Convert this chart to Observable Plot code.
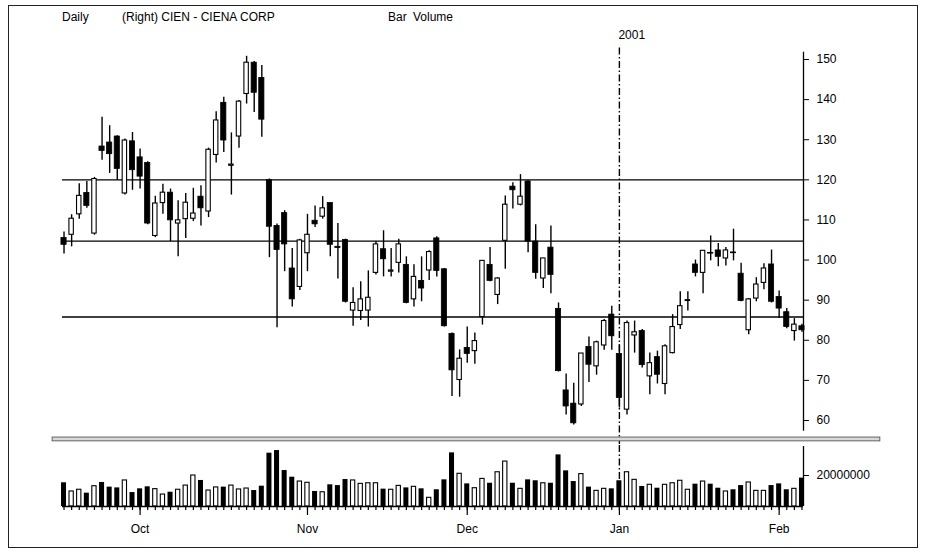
<!DOCTYPE html>
<html><head><meta charset="utf-8">
<script src="https://cdn.jsdelivr.net/npm/d3@7"></script>
<script src="https://cdn.jsdelivr.net/npm/@observablehq/plot@0.6"></script>
<style>
body{margin:0;background:#fff;font-family:"Liberation Sans",Arial,sans-serif;}
#wrap{position:relative;width:925px;height:554px;overflow:hidden;background:#fff;}
#border{position:absolute;left:8px;top:5px;width:910px;height:543px;border:1.5px solid #222;box-sizing:border-box;pointer-events:none;}
.hdr{position:absolute;font-size:12px;line-height:14px;top:10px;color:#000;white-space:nowrap;}
#price,#vol{position:absolute;left:0;}
#price{top:25px}
#vol{top:444px}
</style></head><body>
<div id="wrap">
 <div class="hdr" style="left:62px">Daily</div>
 <div class="hdr" style="left:122px">(Right) CIEN - CIENA CORP</div>
 <div class="hdr" style="left:388px">Bar</div>
 <div class="hdr" style="left:413px">Volume</div>
 <div id="price"></div>
 <div id="vol"></div>
 <div id="border"></div>
</div>
<script>
// ---- data ----
const dates = [
"2000-09-18","2000-09-19","2000-09-20","2000-09-21","2000-09-22","2000-09-25","2000-09-26","2000-09-27","2000-09-28","2000-09-29",
"2000-10-02","2000-10-03","2000-10-04","2000-10-05","2000-10-06","2000-10-09","2000-10-10","2000-10-11","2000-10-12","2000-10-13",
"2000-10-16","2000-10-17","2000-10-18","2000-10-19","2000-10-20","2000-10-23","2000-10-24","2000-10-25","2000-10-26","2000-10-27",
"2000-10-30","2000-10-31",
"2000-11-01","2000-11-02","2000-11-03","2000-11-06","2000-11-07","2000-11-08","2000-11-09","2000-11-10","2000-11-13","2000-11-14",
"2000-11-15","2000-11-16","2000-11-17","2000-11-20","2000-11-21","2000-11-22","2000-11-24","2000-11-27","2000-11-28","2000-11-29",
"2000-11-30",
"2000-12-01","2000-12-04","2000-12-05","2000-12-06","2000-12-07","2000-12-08","2000-12-11","2000-12-12","2000-12-13","2000-12-14",
"2000-12-15","2000-12-18","2000-12-19","2000-12-20","2000-12-21","2000-12-22","2000-12-26","2000-12-27","2000-12-28","2000-12-29",
"2001-01-02","2001-01-03","2001-01-04","2001-01-05","2001-01-08","2001-01-09","2001-01-10","2001-01-11","2001-01-12","2001-01-16",
"2001-01-17","2001-01-18","2001-01-19","2001-01-22","2001-01-23","2001-01-24","2001-01-25","2001-01-26","2001-01-29","2001-01-30",
"2001-01-31",
"2001-02-01","2001-02-02","2001-02-05","2001-02-06"];

const open = [105.5,106.3,111.4,116.7,106.6,128.3,129.3,130.8,116.6,129.6,
125.6,124.2,106.0,114.2,116.8,109.1,110.2,110.3,115.8,112.1,
126.2,139.2,123.5,130.8,141.4,149.2,145.4,119.9,108.5,111.7,
97.9,93.3,101.7,109.8,110.8,114.2,103.3,105.0,87.4,87.3,
87.4,96.8,102.7,97.1,99.3,98.8,90.2,94.8,97.4,105.4,
97.7,81.6,70.1,78.1,77.3,85.8,98.8,91.3,104.8,118.3,
113.8,119.6,104.6,95.4,103.1,87.8,67.5,64.2,64.0,78.3,
73.5,78.7,86.4,76.6,62.7,81.2,82.3,71.0,75.8,69.1,
76.8,83.8,89.8,98.9,96.8,101.8,102.4,100.4,101.9,96.6,
82.5,90.4,94.3,98.9,90.8,87.0,82.3,83.5];

const high = [107.0,111.3,119.0,119.6,120.6,135.6,133.5,131.0,130.2,131.8,
127.7,124.5,115.9,118.9,117.7,114.8,116.6,117.9,118.5,127.9,
137.0,140.6,131.7,139.8,150.8,149.5,148.5,120.2,109.0,112.3,
102.9,105.2,111.4,113.5,115.8,114.3,109.1,105.2,93.1,94.6,
97.3,104.6,107.3,102.9,105.2,100.8,98.8,100.8,102.3,105.8,
97.9,81.8,77.6,83.3,81.8,99.8,103.1,95.6,116.0,119.3,
121.3,119.8,108.8,100.4,108.5,89.3,71.6,69.3,76.7,80.8,
79.8,85.2,88.5,78.9,84.8,84.8,82.7,76.8,77.3,78.9,
86.4,92.1,92.1,100.0,102.4,106.0,104.1,103.1,107.7,99.2,
90.4,95.6,99.1,102.5,92.3,87.9,85.4,84.0];

const low = [101.5,103.3,110.2,112.9,106.2,124.9,121.6,119.9,116.2,117.4,
117.7,108.8,105.6,111.4,104.6,100.8,105.4,109.6,108.5,110.6,
124.2,126.8,116.2,127.9,138.9,136.8,130.6,100.6,83.1,97.1,
88.3,92.4,97.1,108.1,110.2,100.8,95.3,89.3,83.5,84.9,
83.3,96.3,95.8,95.8,96.8,89.1,88.3,89.6,94.9,95.8,
83.3,66.0,65.8,74.3,74.0,83.8,94.6,88.9,97.7,112.7,
113.5,101.8,95.2,92.9,91.6,72.1,61.4,58.9,63.5,69.5,
71.3,77.5,77.5,63.1,61.4,76.8,73.1,66.4,69.1,66.4,
76.6,82.7,87.3,95.8,91.6,99.8,98.3,98.5,99.8,89.6,
81.4,89.6,92.6,89.3,85.4,82.9,79.8,82.0];

const close = [103.8,110.3,116.0,113.5,120.2,127.2,126.4,122.7,129.8,122.4,
120.8,109.1,114.1,116.8,109.9,109.9,114.3,111.6,112.9,127.5,
134.8,129.8,123.8,139.5,149.2,141.7,135.0,108.3,102.5,103.9,
90.2,104.9,106.3,108.9,112.9,103.8,103.0,89.6,89.3,90.2,
90.6,103.9,100.2,97.4,103.9,89.3,95.8,92.9,102.0,97.3,
83.5,72.5,75.4,76.6,79.8,99.8,94.8,95.4,113.8,117.4,
115.8,104.6,96.8,100.4,96.3,72.3,63.5,59.3,76.7,73.9,
79.5,84.8,81.0,65.6,84.3,82.0,73.8,74.3,71.4,78.5,
83.3,88.5,90.0,96.8,102.3,101.6,100.8,102.4,101.7,89.8,
90.2,93.9,97.9,89.6,87.9,83.3,83.9,82.5];

// volume in millions of shares
const volumeM = [15.3,9.7,10.8,8.6,13.1,15.5,12.5,12.0,16.8,9.0,
11.4,12.7,11.2,7.7,9.2,10.8,13.5,20.0,16.8,10.3,
12.3,12.5,13.5,11.0,11.6,10.3,13.1,34.4,36.1,23.2,
18.9,16.1,15.3,9.7,9.2,14.0,13.5,17.4,16.8,14.6,
15.0,15.0,11.2,10.8,13.3,12.0,12.7,11.4,5.6,10.8,
17.2,34.6,21.1,14.6,11.8,17.8,15.0,22.1,29.0,15.0,
11.4,17.2,16.6,15.0,15.0,33.3,23.0,16.1,20.9,12.5,
10.1,11.4,11.4,16.6,22.1,17.2,12.9,14.0,11.8,14.0,
15.0,16.6,10.8,14.4,16.1,14.4,11.8,9.7,10.8,13.5,
15.5,10.1,10.1,13.5,14.6,10.8,11.4,18.3];

const levels = [120, 104.7, 85.8];
const priceTicks = [60, 70, 80, 90, 100, 110, 120, 130, 140, 150];
const volumeTicks = [20];
const monthLabels = ["Oct", "Nov", "Dec", "Jan", "Feb"];
const yearLabel = "2001";

// ---- derived table ----
const rows = dates.map((d, i) => ({i, date: d, o: open[i], h: high[i], l: low[i], c: close[i], v: volumeM[i], up: close[i] >= open[i]}));
const monthStarts = rows.filter((r, i) => i > 0 && r.date.slice(0, 7) !== rows[i - 1].date.slice(0, 7)).map(r => r.i);
const monthName = new Map(monthStarts.map((m, k) => [m, monthLabels[k]]));
const yearStart = rows.find(r => r.date.startsWith("2001")).i;
const lastI = rows.length - 1;
const xEnd = lastI + 0.2;
const upRows = rows.filter(r => r.up), downRows = rows.filter(r => !r.up);
const font = {fontFamily: "'Liberation Sans', Arial, sans-serif", fontSize: "12px", background: "transparent", color: "#000"};
const dash = "7,2.5,1.5,2.5";

const price = Plot.plot({
  width: 925, height: 419, marginLeft: 62, marginRight: 122, marginTop: 34, marginBottom: 24,
  x: {type: "linear", domain: [-0.2, xEnd], axis: null, label: null},
  y: {domain: [60, 150], axis: null, label: null},
  style: font,
  marks: [
    Plot.ruleY(levels, {stroke: "#000", strokeWidth: 1.3}),
    Plot.ruleX(rows, {x: "i", y1: "l", y2: "h", stroke: "#000", strokeWidth: 1.4}),
    Plot.rect(downRows, {x1: d => d.i - 0.34, x2: d => d.i + 0.34, y1: "o", y2: "c", fill: "#000", stroke: "#000", strokeWidth: 0.8, inset: 0}),
    Plot.rect(upRows, {x1: d => d.i - 0.29, x2: d => d.i + 0.29, y1: "o", y2: "c", fill: "#fff", stroke: "#000", strokeWidth: 1.1, inset: 0}),
    Plot.ruleX([yearStart], {y1: 53.5, y2: 153.5, stroke: "#000", strokeWidth: 1.4, strokeDasharray: dash}),
    Plot.text([yearLabel], {x: yearStart, y: 156, text: d => d, textAnchor: "start", dx: -1, fontSize: 12}),
    Plot.ruleX([xEnd], {y1: 57.3, y2: 151.8, stroke: "#000", strokeWidth: 1.3}),
    Plot.axisY({anchor: "right", label: null, ticks: priceTicks, tickSize: 5, tickPadding: 8, tickFormat: d => String(d)}),
    Plot.rect([0], {x1: -1.5, x2: 107.3, y1: 54.8, y2: 55.75, fill: "#d8d8d8", stroke: "#555", strokeWidth: 0.9, inset: 0})
  ]
});
document.getElementById("price").append(price);

const vol = Plot.plot({
  width: 925, height: 110, marginLeft: 62, marginRight: 122, marginTop: 0, marginBottom: 48,
  x: {type: "linear", domain: [-0.2, xEnd], axis: null, label: null},
  y: {domain: [0, 40], axis: null, label: null},
  style: font,
  marks: [
    Plot.ruleX([yearStart], {y1: 0, y2: 40, stroke: "#000", strokeWidth: 1.4, strokeDasharray: dash}),
    Plot.rect(downRows, {x1: d => d.i - 0.33, x2: d => d.i + 0.33, y1: 0, y2: "v", fill: "#000", inset: 0}),
    Plot.rect(upRows, {x1: d => d.i - 0.28, x2: d => d.i + 0.28, y1: 0, y2: "v", fill: "#fff", stroke: "#000", strokeWidth: 1.1, inset: 0}),
    Plot.ruleY([0], {stroke: "#000", strokeWidth: 1.3}),
    Plot.ruleX([xEnd], {y1: 0, y2: 38.7, stroke: "#000", strokeWidth: 1.3}),
    Plot.axisY({anchor: "right", label: null, ticks: volumeTicks, tickSize: 5, tickPadding: 8, tickFormat: d => d3.format("d")(d * 1e6)}),
    Plot.axisX({label: null, ticks: rows.map(r => r.i), tickSize: 4, tickFormat: () => "", strokeWidth: 1.2}),
    Plot.axisX({label: null, ticks: monthStarts, tickSize: 9, tickPadding: 9, tickFormat: d => monthName.get(d), strokeWidth: 1.2})
  ]
});
document.getElementById("vol").append(vol);
</script>
</body></html>
